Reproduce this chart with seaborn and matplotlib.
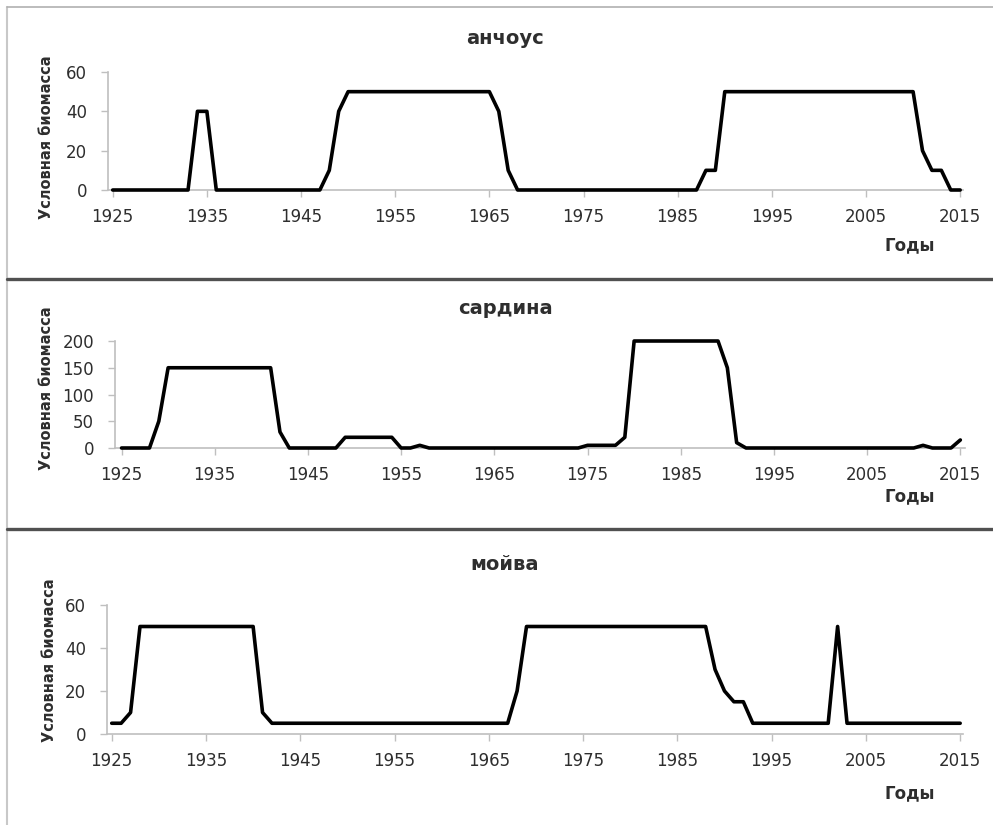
import matplotlib

matplotlib.use("Agg")

import matplotlib.pyplot as plt
import pandas as pd
import seaborn as sns
from matplotlib.lines import Line2D

W, H = 993, 825

years = list(range(1925, 2016))
year_ticks = [1925, 1935, 1945, 1955, 1965, 1975, 1985, 1995, 2005, 2015]

# анчоус, 1925..2015, one row per decade
anchovy = [
    0, 0, 0, 0, 0, 0, 0, 0, 0, 40,
    40, 0, 0, 0, 0, 0, 0, 0, 0, 0,
    0, 0, 0, 10, 40, 50, 50, 50, 50, 50,
    50, 50, 50, 50, 50, 50, 50, 50, 50, 50,
    50, 40, 10, 0, 0, 0, 0, 0, 0, 0,
    0, 0, 0, 0, 0, 0, 0, 0, 0, 0,
    0, 0, 0, 10, 10, 50, 50, 50, 50, 50,
    50, 50, 50, 50, 50, 50, 50, 50, 50, 50,
    50, 50, 50, 50, 50, 50, 20, 10, 10, 0,
    0,
]

# сардина
sardine = [
    0, 0, 0, 0, 50, 150, 150, 150, 150, 150,
    150, 150, 150, 150, 150, 150, 150, 30, 0, 0,
    0, 0, 0, 0, 20, 20, 20, 20, 20, 20,
    0, 0, 5, 0, 0, 0, 0, 0, 0, 0,
    0, 0, 0, 0, 0, 0, 0, 0, 0, 0,
    5, 5, 5, 5, 20, 200, 200, 200, 200, 200,
    200, 200, 200, 200, 200, 150, 10, 0, 0, 0,
    0, 0, 0, 0, 0, 0, 0, 0, 0, 0,
    0, 0, 0, 0, 0, 0, 5, 0, 0, 0,
    15,
]

# мойва
capelin = [
    5, 5, 10, 50, 50, 50, 50, 50, 50, 50,
    50, 50, 50, 50, 50, 50, 10, 5, 5, 5,
    5, 5, 5, 5, 5, 5, 5, 5, 5, 5,
    5, 5, 5, 5, 5, 5, 5, 5, 5, 5,
    5, 5, 5, 20, 50, 50, 50, 50, 50, 50,
    50, 50, 50, 50, 50, 50, 50, 50, 50, 50,
    50, 50, 50, 50, 30, 20, 15, 15, 5, 5,
    5, 5, 5, 5, 5, 5, 5, 50, 5, 5,
    5, 5, 5, 5, 5, 5, 5, 5, 5, 5,
    5,
]

titles = ["анчоус", "сардина", "мойва"]
series = [anchovy, sardine, capelin]
y_ticks = [[0, 20, 40, 60], [0, 50, 100, 150, 200], [0, 20, 40, 60]]
y_label = "Условная биомасса"
x_label = "Годы"

# panel geometry in pixels: left, right, top, bottom of the plotting area
boxes = [(108, 963, 72, 190), (115, 965, 341, 448), (107, 963, 605, 734)]
xlims = [(1924.5, 2015.3), (1924.3, 2015.5), (1924.5, 2015.3)]
title_y = [38, 309, 565]
xlabel_y = [245, 496, 793]
ylabel_pos = [(47, 137), (47, 388), (50, 660)]

TEXT = "#2e2e2e"
AXIS = "#bfbfbf"


def fx(px):
    return px / W


def fy(py):
    return 1 - py / H


def main() -> None:
    sns.set_theme(style="ticks")
    plt.rcParams["font.family"] = ["DejaVu Sans"]

    fig = plt.figure(figsize=(W / 100, H / 100), dpi=100)

    for i in range(3):
        left, right, top, bottom = boxes[i]
        ax = fig.add_axes([fx(left), fy(bottom), (right - left) / W, (bottom - top) / H])
        df = pd.DataFrame({"year": years, "value": series[i]})
        sns.lineplot(data=df, x="year", y="value", ax=ax, color="black", linewidth=2.6)

        ax.set_xlim(*xlims[i])
        ax.set_ylim(y_ticks[i][0], y_ticks[i][-1])
        ax.set_xticks(year_ticks)
        ax.set_yticks(y_ticks[i])
        ax.set_xlabel("")
        ax.set_ylabel("")
        ax.tick_params(axis="both", labelsize=12, colors=AXIS, labelcolor=TEXT,
                       length=5, width=1, pad=8)
        ax.tick_params(axis="y", pad=10)
        sns.despine(ax=ax)
        for side in ("left", "bottom"):
            ax.spines[side].set_color(AXIS)
            ax.spines[side].set_linewidth(1.2)
        for line in ax.lines:
            line.set_clip_on(False)
            line.set_zorder(4)

        fig.text(fx(505), fy(title_y[i]), titles[i], ha="center", va="center",
                 fontsize=14, fontweight="bold", color=TEXT)
        fig.text(fx(910), fy(xlabel_y[i]), x_label, ha="center", va="center",
                 fontsize=12, fontweight="bold", color=TEXT)
        lx, ly = ylabel_pos[i]
        fig.text(fx(lx), fy(ly), y_label, ha="center", va="center", rotation=90,
                 fontsize=10.5, fontweight="bold", color=TEXT)

    # screenshot frames around the three panels
    fig.add_artist(Line2D([fx(6.5), fx(6.5)], [0, fy(6.5)], transform=fig.transFigure,
                          color="#c8c8c8", linewidth=1.5))
    fig.add_artist(Line2D([fx(6.5), 1], [fy(6.5), fy(6.5)], transform=fig.transFigure,
                          color="#b0b0b0", linewidth=1.2))
    for sep in (279, 529):
        fig.add_artist(Line2D([fx(6.5), 1], [fy(sep), fy(sep)], transform=fig.transFigure,
                              color="#505050", linewidth=2.4))

    fig.savefig("out.png", dpi=100, facecolor="white")


if __name__ == "__main__":
    main()
